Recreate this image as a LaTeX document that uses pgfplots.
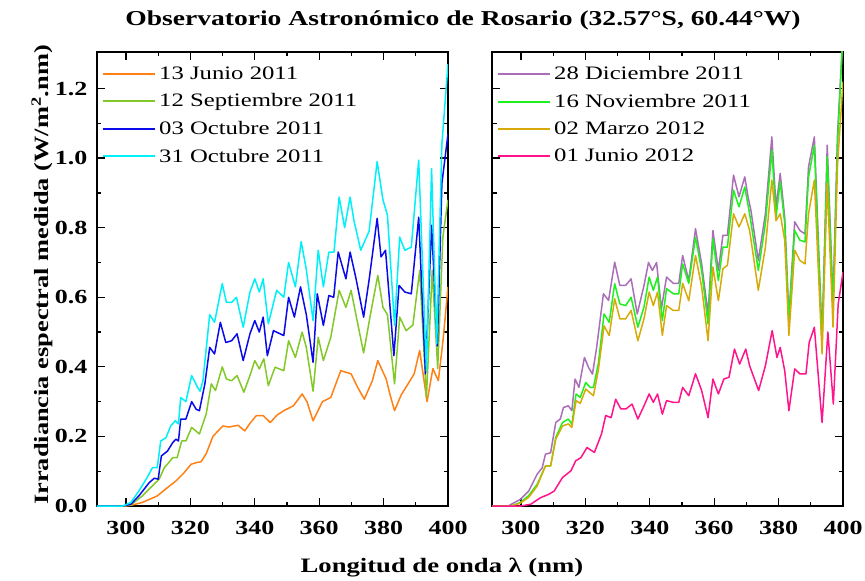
\documentclass[border=0pt]{standalone}
\usepackage{pgfplots}
\pgfplotsset{compat=1.18}
\usepackage{fontspec}
\setmainfont[FakeStretch=1.3]{Liberation Serif}
\definecolor{cOr}{RGB}{255,128,20}
\definecolor{cYg}{RGB}{130,200,40}
\definecolor{cBl}{RGB}{10,10,235}
\definecolor{cCy}{RGB}{0,240,250}
\definecolor{cPu}{RGB}{170,110,185}
\definecolor{cLi}{RGB}{30,240,30}
\definecolor{cGo}{RGB}{215,170,10}
\definecolor{cPk}{RGB}{255,20,140}
\pgfplotsset{
  myax/.style={
    scale only axis, width=351pt, height=454pt,
    xmin=291, xmax=400, ymin=0, ymax=1.305,
    xtick={300,320,...,400}, minor x tick num=1,
    ytick={0,0.2,...,1.21}, minor y tick num=1,
    tick align=inside,
    major tick length=8pt, minor tick length=4.5pt,
    axis line style={line width=1.5pt},
    every tick/.style={line width=1.3pt, black},
    /pgf/number format/assume math mode=true,
    ticklabel style={font=\fontsize{20}{22}\selectfont\bfseries},
    xticklabel style={yshift=-12pt},
    yticklabel style={xshift=-6pt, /pgf/number format/.cd, fixed, fixed zerofill, precision=1},
    legend style={at={(0.01,0.975)}, anchor=north west, draw=none, fill=none,
      font=\fontsize{19}{21}\selectfont, row sep=9pt, inner sep=1pt,
      nodes={inner xsep=3.5pt}},
    legend cell align=left,
    legend image code/.code={\draw[#1, line width=2pt] plot coordinates {(0pt,0pt) (52pt,0pt)};},
    every axis plot/.append style={line width=1.5pt, line join=round},
    clip=true,
  }
}
\begin{document}
\begin{tikzpicture}
\path[use as bounding box] (-97pt,-75pt) rectangle (768pt,506pt);
\begin{axis}[myax, name=L, at={(0pt,0pt)}, anchor=south west]
\addplot[color=cOr] coordinates {(290,0) (298,0) (300,0.0) (302,0.003) (305,0.01) (307.5,0.02) (309.7,0.029) (312.5,0.05) (315.5,0.072) (318,0.095) (320.2,0.12) (322,0.125) (323.3,0.127) (324.9,0.15) (327,0.20) (328.5,0.215) (330.1,0.23) (332,0.227) (334.8,0.232) (336.9,0.216) (338.7,0.24) (340.5,0.26) (342.6,0.26) (344.8,0.24) (347,0.262) (349,0.274) (352,0.288) (354.7,0.322) (356.2,0.30) (358.1,0.245) (361,0.30) (363.6,0.312) (366.7,0.389) (369.9,0.38) (372,0.34) (374,0.307) (376.5,0.36) (378.2,0.418) (380.8,0.365) (382,0.32) (383.4,0.274) (385.5,0.32) (387.6,0.351) (389.5,0.38) (391.2,0.447) (393.5,0.30) (395.3,0.395) (397,0.36) (398.5,0.48) (400,0.63)};
\addlegendentry{13 Junio 2011}
\addplot[color=cYg] coordinates {(290,0) (299,0) (301.5,0.003) (305.1,0.029) (308.2,0.058) (310.3,0.077) (311.9,0.11) (313.3,0.125) (314.5,0.139) (315.9,0.139) (317.3,0.187) (318.6,0.187) (320.4,0.226) (322.8,0.207) (324.9,0.264) (326.5,0.351) (327.8,0.332) (329.9,0.40) (331.2,0.365) (332.8,0.36) (334.5,0.375) (336.6,0.327) (338.5,0.375) (340,0.418) (341.4,0.394) (342.8,0.423) (344.2,0.346) (346.3,0.399) (349,0.389) (350.5,0.475) (352.6,0.427) (354.7,0.50) (356,0.456) (358.1,0.33) (359.7,0.485) (361.3,0.418) (363.6,0.485) (366.2,0.62) (368.3,0.571) (369.9,0.62) (371.4,0.55) (373.8,0.44) (375.9,0.55) (378.2,0.663) (379.8,0.571) (381.2,0.55) (383.4,0.351) (385,0.543) (387,0.504) (389.1,0.52) (391.2,0.677) (393.3,0.312) (395.1,0.677) (396.8,0.395) (398.4,0.773) (400,0.88)};
\addlegendentry{12 Septiembre 2011}
\addplot[color=cBl] coordinates {(290,0) (299,0) (301.5,0.005) (304,0.029) (307.2,0.067) (308.8,0.08) (310,0.077) (311,0.144) (312.9,0.158) (314.5,0.182) (315.5,0.192) (316.3,0.187) (317,0.25) (318.6,0.25) (320.4,0.30) (321.8,0.278) (322.8,0.274) (324.5,0.351) (326,0.456) (327.5,0.437) (329.3,0.528) (331,0.47) (332.8,0.475) (334.5,0.495) (336.4,0.418) (338.5,0.495) (340,0.533) (341.4,0.50) (342.6,0.543) (343.9,0.432) (345.8,0.504) (349,0.49) (350.5,0.60) (352.3,0.543) (354.2,0.63) (356,0.55) (358.1,0.413) (359.4,0.61) (361.3,0.519) (363,0.605) (364.5,0.60) (365.9,0.73) (368.3,0.653) (369.6,0.73) (371.4,0.655) (373.8,0.543) (375.5,0.65) (378,0.827) (379.2,0.716) (380.6,0.735) (383.2,0.432) (384.8,0.634) (386.6,0.615) (388.6,0.61) (390.9,0.83) (393,0.38) (394.9,0.807) (396.7,0.46) (398.1,0.927) (400,1.07)};
\addlegendentry{03 Octubre 2011}
\addplot[color=cCy] coordinates {(290,0) (299,0) (301.5,0.01) (304,0.043) (306.6,0.082) (308.2,0.11) (309.7,0.11) (310.8,0.187) (312.4,0.196) (313.9,0.23) (315.3,0.245) (316.3,0.236) (317,0.312) (318.6,0.30) (320.4,0.375) (322.3,0.34) (323,0.33) (323.9,0.36) (326,0.55) (327.5,0.528) (329.9,0.639) (331.2,0.585) (332.8,0.585) (334.3,0.60) (336.4,0.514) (338.5,0.615) (340,0.653) (341.4,0.615) (342.6,0.653) (344.2,0.524) (346.8,0.62) (349,0.60) (350.5,0.70) (352.6,0.63) (354.4,0.76) (356,0.68) (358.1,0.533) (359.7,0.735) (361.3,0.63) (363,0.73) (364.6,0.73) (366.2,0.888) (367.9,0.80) (369.6,0.888) (370.8,0.82) (372.9,0.735) (375.5,0.79) (378,0.99) (379.8,0.88) (381.2,0.836) (383.4,0.519) (385,0.773) (386.6,0.735) (388.6,0.744) (390.9,0.994) (393.3,0.389) (394.9,0.97) (396.5,0.467) (398.1,1.04) (400,1.27)};
\addlegendentry{31 Octubre 2011}
\end{axis}
\begin{axis}[myax, name=R, at={(395pt,0pt)}, anchor=south west, yticklabels={}]
\addplot[color=cPu] coordinates {(290,0) (296,0) (299.8,0.019) (302.4,0.043) (305,0.091) (306.6,0.11) (307.6,0.149) (309.2,0.153) (310.8,0.24) (312.2,0.25) (313.2,0.283) (314.7,0.288) (315.8,0.274) (316.8,0.365) (318,0.341) (319.7,0.427) (321,0.398) (322.2,0.379) (323.5,0.456) (325.6,0.61) (327.2,0.591) (329.1,0.701) (330.7,0.634) (332.5,0.634) (334.2,0.653) (336.1,0.552) (338.2,0.634) (339.6,0.70) (340.8,0.677) (342.1,0.70) (343.6,0.567) (345.2,0.658) (347.3,0.64) (349,0.64) (350.2,0.72) (352.1,0.648) (354.2,0.797) (356.1,0.696) (358.1,0.552) (359.6,0.792) (361.3,0.677) (362.7,0.778) (364.1,0.778) (366,0.951) (367.7,0.889) (369.5,0.946) (370.5,0.889) (371.4,0.85) (373.7,0.706) (375.9,0.84) (377.9,1.061) (379.2,0.86) (380.5,0.956) (381.9,0.83) (383.2,0.543) (385,0.817) (386.6,0.792) (388.2,0.782) (389.3,0.975) (391.1,1.061) (393.5,0.485) (395.1,1.037) (396.9,0.59) (398.3,1.07) (400,1.36)};
\addlegendentry{28 Diciembre 2011}
\addplot[color=cLi] coordinates {(290,0) (297,0) (299.8,0.01) (302.4,0.03) (305,0.062) (307.6,0.115) (309.2,0.115) (310.8,0.197) (312.9,0.24) (314.7,0.25) (315.8,0.235) (317.1,0.322) (318.4,0.312) (320.1,0.355) (321.5,0.341) (322.5,0.341) (324,0.408) (325.8,0.552) (327.4,0.528) (329.1,0.639) (330.7,0.581) (332.5,0.576) (334.2,0.60) (336.3,0.514) (338.2,0.572) (339.8,0.658) (341.1,0.62) (342.4,0.658) (343.9,0.533) (345.2,0.625) (347.3,0.61) (349,0.61) (350.2,0.696) (352.1,0.64) (354.2,0.773) (356.1,0.677) (358.1,0.523) (359.6,0.768) (361.3,0.648) (362.7,0.744) (364.1,0.744) (366,0.908) (367.7,0.86) (369.5,0.917) (371,0.84) (373.7,0.677) (375.9,0.812) (377.9,1.023) (379.2,0.83) (380.5,0.932) (381.9,0.812) (383.2,0.533) (385,0.792) (386.6,0.764) (388.2,0.759) (389.3,0.946) (391.1,1.037) (393.5,0.466) (395.1,1.004) (396.9,0.571) (398.3,1.04) (400,1.36)};
\addlegendentry{16 Noviembre 2011}
\addplot[color=cGo] coordinates {(290,0) (297,0) (299.8,0.008) (302.4,0.025) (305,0.057) (307.6,0.115) (309.2,0.115) (310.8,0.192) (312.9,0.23) (314.7,0.236) (315.8,0.226) (317.1,0.303) (318.4,0.295) (320.1,0.336) (322.5,0.317) (324,0.389) (325.8,0.518) (327.4,0.49) (329.1,0.596) (330.7,0.538) (332.5,0.538) (334.2,0.562) (336.3,0.475) (338.2,0.538) (339.8,0.615) (341.1,0.576) (342.4,0.615) (343.9,0.49) (345.2,0.576) (347.3,0.562) (349,0.562) (350.2,0.64) (352.1,0.59) (354.2,0.72) (356.1,0.63) (358.1,0.475) (359.6,0.687) (361.3,0.59) (362.7,0.682) (364.1,0.692) (366,0.84) (367.7,0.802) (369.5,0.84) (371,0.792) (373.7,0.62) (375.9,0.744) (377.9,0.937) (379.2,0.82) (380.5,0.84) (381.9,0.764) (383.2,0.49) (385,0.735) (386.6,0.706) (388.2,0.696) (389.3,0.84) (391.1,0.937) (393.5,0.437) (395.1,0.927) (396.9,0.514) (398.3,0.98) (400,1.22)};
\addlegendentry{02 Marzo 2012}
\addplot[color=cPk] coordinates {(290,0) (300,0) (303,0.005) (306.1,0.024) (308.7,0.034) (310.3,0.043) (312.9,0.082) (315.5,0.101) (317,0.13) (318.6,0.139) (320.5,0.168) (322.8,0.154) (325,0.207) (326.3,0.26) (328,0.254) (329.4,0.307) (331,0.279) (332.6,0.279) (334.5,0.293) (336.3,0.25) (338.2,0.288) (339.8,0.322) (341.1,0.298) (342.4,0.322) (343.9,0.264) (345.2,0.303) (347.3,0.298) (349,0.298) (350.2,0.341) (352.1,0.317) (354.2,0.38) (356.1,0.332) (358.1,0.254) (359.6,0.365) (361.3,0.322) (363,0.365) (364.6,0.37) (366.3,0.451) (367.9,0.408) (369.8,0.451) (371,0.403) (373.8,0.332) (375.9,0.403) (378,0.504) (379.5,0.427) (380.5,0.456) (381.9,0.389) (383.2,0.274) (385,0.394) (386.6,0.38) (388.5,0.38) (389.5,0.47) (391.1,0.514) (393.5,0.24) (395.3,0.50) (397,0.293) (398.5,0.58) (400,0.672)};
\addlegendentry{01 Junio 2012}
\end{axis}
\node[font=\fontsize{21.2}{23}\selectfont\bfseries] at (366pt,486pt) {Observatorio Astronómico de Rosario (32.57°S, 60.44°W)};
\node[font=\fontsize{20.3}{22}\selectfont\bfseries, rotate=90] at (-55pt,231pt) {Irradiancia espectral medida (W/m\textsuperscript{2}.nm)};
\node[font=\fontsize{20.5}{22}\selectfont\bfseries] at (345pt,-62pt) {Longitud de onda λ (nm)};
\end{tikzpicture}
\end{document}
